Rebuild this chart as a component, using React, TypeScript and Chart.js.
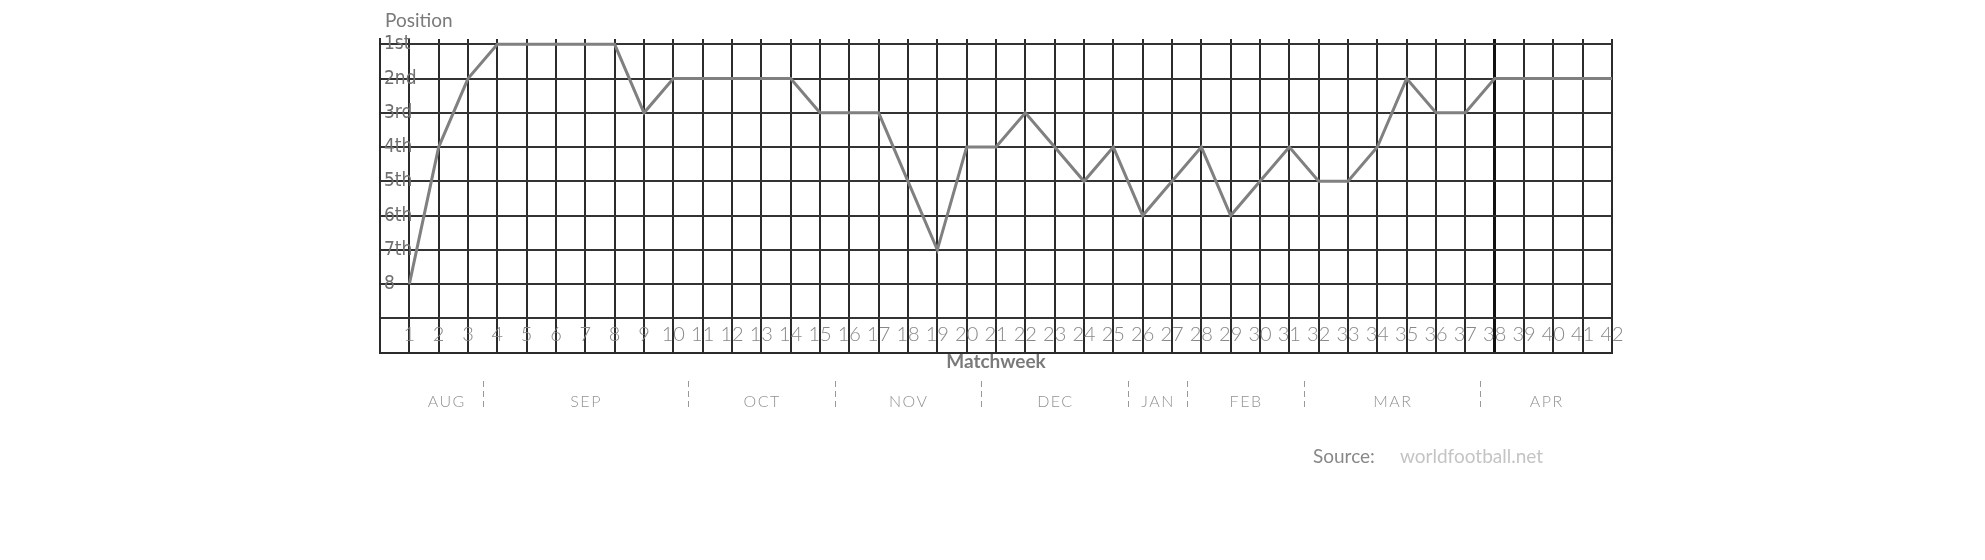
import React, { useEffect, useRef } from "react";
import { Chart, registerables } from "chart.js";

Chart.register(...registerables);

// ---------- data ----------
const matchweeks = [
  1, 2, 3, 4, 5, 6, 7, 8, 9, 10, 11, 12, 13, 14, 15, 16, 17, 18, 19, 20, 21,
  22, 23, 24, 25, 26, 27, 28, 29, 30, 31, 32, 33, 34, 35, 36, 37, 38, 39, 40, 41, 42,
];
const positions = [
  8, 4, 2, 1, 1, 1, 1, 1, 3, 2, 2, 2, 2, 2, 3, 3, 3, 5, 7, 4, 4,
  3, 4, 5, 4, 6, 5, 4, 6, 5, 4, 5, 5, 4, 2, 3, 3, 2, 2, 2, 2, 2,
];
const yTickValues = [1, 2, 3, 4, 5, 6, 7, 8, 9, 10];
const yTickLabels = ["1st", "2nd", "3rd", "4th", "5th", "6th", "7th", "8", "", ""];
const monthNames = ["AUG", "SEP", "OCT", "NOV", "DEC", "JAN", "FEB", "MAR", "APR"];
const monthBoundaries = [3.5, 10.5, 15.5, 20.5, 25.5, 27.5, 31.5, 37.5];
const seasonStart = 1;
const seasonEnd = 42;
const highlightWeek = 38;
const labelRowValue = 9;

const FONT = "Lato, 'Open Sans', sans-serif";
const NARROW = "'Liberation Sans Narrow', 'DejaVu Sans Condensed', 'Arial Narrow', sans-serif";

const xTickCallback = (v: any) => (matchweeks.includes(Number(v)) ? String(v) : "");
const xTicksBuild = (scale: any) => {
  scale.ticks = [0, ...matchweeks].map((v) => ({ value: v }));
};

const extrasPlugin = {
  id: "extras",
  afterDraw(chart: any) {
    const ctx = chart.ctx as CanvasRenderingContext2D;
    const xs = chart.scales.x;
    ctx.save();

    // "Position" heading
    ctx.font = `400 19px ${FONT}`;
    ctx.fillStyle = "#7a7a7a";
    ctx.textAlign = "left";
    ctx.textBaseline = "middle";
    ctx.fillText("Position", 385, 21);

    // month labels
    const edges = [seasonStart, ...monthBoundaries, seasonEnd];
    ctx.font = `300 16px ${FONT}`;
    ctx.fillStyle = "#929292";
    ctx.textAlign = "center";
    (ctx as any).letterSpacing = "1.5px";
    monthNames.forEach((m, i) => {
      const cx = xs.getPixelForValue((edges[i] + edges[i + 1]) / 2);
      ctx.fillText(m, cx + 0.75, 402);
    });
    (ctx as any).letterSpacing = "0px";

    // dashed separators
    ctx.strokeStyle = "#999";
    ctx.lineWidth = 1;
    ctx.setLineDash([6, 4]);
    monthBoundaries.forEach((b) => {
      const x = Math.round(xs.getPixelForValue(b)) + 0.5;
      ctx.beginPath();
      ctx.moveTo(x, 381);
      ctx.lineTo(x, 408);
      ctx.stroke();
    });
    ctx.setLineDash([]);

    // source
    ctx.font = `400 19px ${FONT}`;
    ctx.textAlign = "left";
    ctx.fillStyle = "#888";
    ctx.fillText("Source:", 1313, 457);
    ctx.fillStyle = "#c4c4c4";
    ctx.fillText("worldfootball.net", 1400, 457);

    ctx.restore();
  },
};

export default function App() {
  const canvasRef = useRef<HTMLCanvasElement>(null);

  useEffect(() => {
    if (!canvasRef.current) return;
    const chart = new Chart(canvasRef.current, {
      type: "line",
      data: {
        datasets: [
          {
            data: matchweeks.map((w, i) => ({ x: w, y: positions[i] })),
            borderColor: "#808080",
            borderWidth: 3,
            pointRadius: 0,
            fill: false,
            tension: 0,
          },
        ],
      },
      options: {
        responsive: false,
        animation: false,
        devicePixelRatio: 1,
        layout: { padding: { left: 372, right: 373, top: 39, bottom: 187 } },
        plugins: { legend: { display: false }, tooltip: { enabled: false } },
        scales: {
          x: {
            type: "linear",
            position: "bottom",
            min: 0,
            max: seasonEnd,
            afterBuildTicks: xTicksBuild,
            grid: {
              color: (c: any) => (c.tick && c.tick.value === highlightWeek ? "#111" : "#2b2b2b"),
              lineWidth: (c: any) => (c.tick && c.tick.value === highlightWeek ? 3 : 2),
              drawTicks: false,
            },
            border: { display: true, color: "#2b2b2b", width: 2 },
            ticks: { display: false, autoSkip: false },
            title: {
              display: true,
              text: "Matchweek",
              color: "#7a7a7a",
              font: { family: FONT, size: 19, weight: "bold" },
              padding: { top: -2.4, bottom: 0 },
            },
          },
          x2: {
            type: "linear",
            axis: "x",
            position: { y: labelRowValue },
            min: 0,
            max: seasonEnd,
            afterBuildTicks: xTicksBuild,
            grid: { display: false, drawTicks: false },
            border: { display: false },
            ticks: {
              autoSkip: false,
              maxRotation: 0,
              minRotation: 0,
              padding: 4.2,
              color: "#888",
              font: { family: FONT, size: 20, weight: "300" },
              callback: xTickCallback,
            },
          },
          y: {
            type: "linear",
            reverse: true,
            min: 0.845,
            max: 10,
            afterBuildTicks: (scale: any) => {
              scale.ticks = yTickValues.map((v) => ({ value: v }));
            },
            grid: { color: "#333", lineWidth: 2, drawTicks: false },
            border: { display: true, color: "#2b2b2b", width: 2 },
            ticks: {
              mirror: true,
              padding: 4,
              color: "#6f6f6f",
              font: { family: NARROW, size: 19 },
              callback: (v: any) => {
                const i = yTickValues.indexOf(Number(v));
                return i >= 0 ? yTickLabels[i] : "";
              },
            },
          },
        },
      } as any,
      plugins: [extrasPlugin],
    });
    return () => chart.destroy();
  }, []);

  return (
    <div style={{ position: "absolute", left: 0, top: 0, width: 1985, height: 560 }}>
      <canvas ref={canvasRef} width={1985} height={560} />
    </div>
  );
}
